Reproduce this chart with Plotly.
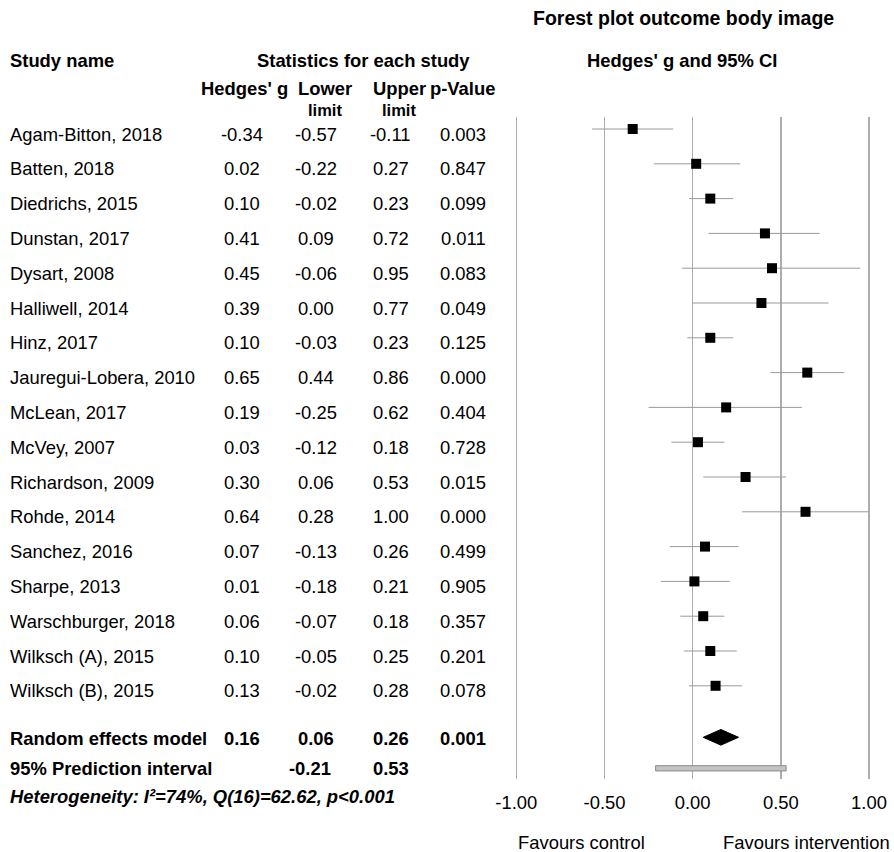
import plotly.graph_objects as go

# ---------------- data ----------------
studies = ["Agam-Bitton, 2018", "Batten, 2018", "Diedrichs, 2015", "Dunstan, 2017",
           "Dysart, 2008", "Halliwell, 2014", "Hinz, 2017", "Jauregui-Lobera, 2010",
           "McLean, 2017", "McVey, 2007", "Richardson, 2009", "Rohde, 2014",
           "Sanchez, 2016", "Sharpe, 2013", "Warschburger, 2018", "Wilksch (A), 2015",
           "Wilksch (B), 2015"]
hedges_g = [-0.34, 0.02, 0.10, 0.41, 0.45, 0.39, 0.10, 0.65, 0.19, 0.03, 0.30, 0.64,
            0.07, 0.01, 0.06, 0.10, 0.13]
lower_limit = [-0.57, -0.22, -0.02, 0.09, -0.06, 0.00, -0.03, 0.44, -0.25, -0.12, 0.06,
               0.28, -0.13, -0.18, -0.07, -0.05, -0.02]
upper_limit = [-0.11, 0.27, 0.23, 0.72, 0.95, 0.77, 0.23, 0.86, 0.62, 0.18, 0.53, 1.00,
               0.26, 0.21, 0.18, 0.25, 0.28]
p_values = ["0.003", "0.847", "0.099", "0.011", "0.083", "0.049", "0.125", "0.000",
            "0.404", "0.728", "0.015", "0.000", "0.499", "0.905", "0.357", "0.201", "0.078"]

re_label = "Random effects model"
re_g, re_lower, re_upper, re_p = 0.16, 0.06, 0.26, "0.001"
pi_label = "95% Prediction interval"
pi_lower, pi_upper = -0.21, 0.53
heterogeneity = "Heterogeneity: I²=74%, Q(16)=62.62, p<0.001"

x_ticks = [-1.0, -0.5, 0.0, 0.5, 1.0]
x_tick_labels = ["-1.00", "-0.50", "0.00", "0.50", "1.00"]

# ---------------- layout helpers ----------------
W, H = 894, 852
FONT = "Liberation Sans, Arial, sans-serif"
FS = 18.4
ROW0_PX, ROW_PX = 129.0, 34.8        # page pixel of row 0 and row spacing
TOP_PX, BOT_PX = 117.0, 779.3        # vertical extent of plot area (gridlines)
X_M1_PX, X_P1_PX = 516.3, 869.0      # page pixel of -1 and +1
PAD = 1.5                            # px padding so edge gridlines are drawn
UNIT = (X_P1_PX - X_M1_PX) / 2.0


def row_of(px):
    return (px - ROW0_PX) / ROW_PX


def py(px):
    return 1 - px / H


def pxx(px):
    return px / W


RE_ROW = row_of(737.3)
PI_ROW = row_of(768.3)

rows = list(range(len(studies)))

fig = go.Figure()

# study CIs + markers
fig.add_trace(go.Scatter(
    x=hedges_g, y=rows, mode="markers",
    marker=dict(symbol="square", size=10, color="black"),
    error_x=dict(type="data", symmetric=False,
                 array=[u - g for u, g in zip(upper_limit, hedges_g)],
                 arrayminus=[g - l for g, l in zip(hedges_g, lower_limit)],
                 color="#9a9a9a", thickness=1, width=0),
    hoverinfo="skip", showlegend=False, cliponaxis=False))

# random effects diamond
dh = 0.225
fig.add_trace(go.Scatter(
    x=[re_lower, re_g, re_upper, re_g, re_lower],
    y=[RE_ROW, RE_ROW - dh, RE_ROW, RE_ROW + dh, RE_ROW],
    mode="lines", fill="toself", fillcolor="black",
    line=dict(color="black", width=1), hoverinfo="skip", showlegend=False))

# prediction interval bar
fig.add_shape(type="rect", xref="x", yref="y",
              x0=pi_lower, x1=pi_upper, y0=PI_ROW - 0.075, y1=PI_ROW + 0.075,
              fillcolor="#c4c4c4", line=dict(color="#8a8a8a", width=1))

ann = []


def txt(text, x_px, y, yref="y", size=FS, anchor="center", yshift=0, bold=False, italic=False):
    if bold:
        text = "<b>" + text + "</b>"
    if italic:
        text = "<i>" + text + "</i>"
    ann.append(dict(text=text, xref="paper", x=pxx(x_px), yref=yref, y=y,
                    xanchor=anchor, yanchor="middle", showarrow=False,
                    yshift=yshift, font=dict(family=FONT, size=size, color="black")))


COL_G, COL_L, COL_U, COL_P = 241.5, 316.0, 390.5, 463.0
LEFT = 8
SHIFT = -5

for i, name in enumerate(studies):
    txt(name, LEFT, i, anchor="left", yshift=SHIFT)
    txt(f"{hedges_g[i]:.2f}", COL_G, i, yshift=SHIFT)
    txt(f"{lower_limit[i]:.2f}", COL_L, i, yshift=SHIFT)
    txt(f"{upper_limit[i]:.2f}", COL_U, i, yshift=SHIFT)
    txt(p_values[i], COL_P, i, yshift=SHIFT)

# summary rows
txt(re_label, LEFT, RE_ROW, anchor="left", bold=True, yshift=-1.5)
txt(f"{re_g:.2f}", COL_G, RE_ROW, bold=True, yshift=-1.5)
txt(f"{re_lower:.2f}", COL_L, RE_ROW, bold=True, yshift=-1.5)
txt(f"{re_upper:.2f}", COL_U, RE_ROW, bold=True, yshift=-1.5)
txt(re_p, COL_P, RE_ROW, bold=True, yshift=-1.5)
txt(pi_label, LEFT, PI_ROW, anchor="left", bold=True)
txt(f"{pi_lower:.2f}", 309.5, PI_ROW, bold=True)
txt(f"{pi_upper:.2f}", COL_U, PI_ROW, bold=True)
txt(heterogeneity, LEFT, py(796.7), yref="paper", anchor="left", bold=True, italic=True)

# headers
txt("Study name", LEFT, py(60), yref="paper", anchor="left", bold=True)
txt("Statistics for each study", 363.5, py(60), yref="paper", bold=True)
txt("Hedges' g", 244, py(88.5), yref="paper", bold=True)
txt("Lower", 324.5, py(88.5), yref="paper", bold=True)
txt("Upper", 399, py(88.5), yref="paper", bold=True)
txt("p-Value", 462, py(88.5), yref="paper", bold=True)
txt("limit", 324.5, py(110), yref="paper", bold=True, size=16.5)
txt("limit", 399, py(110), yref="paper", bold=True, size=16.5)
txt("Forest plot outcome body image", 683.5, py(18.5), yref="paper", bold=True, size=19.5)
txt("Hedges' g and 95% CI", 682, py(61), yref="paper", bold=True)
txt("Favours control", 581, py(842), yref="paper")
txt("Favours intervention", 806.5, py(842), yref="paper")

fig.update_layout(
    width=W, height=H, margin=dict(l=0, r=0, t=0, b=0, autoexpand=False),
    paper_bgcolor="white", plot_bgcolor="white",
    annotations=ann, showlegend=False, hovermode=False,
    font=dict(family=FONT, size=FS, color="black"),
    xaxis=dict(domain=[pxx(X_M1_PX - PAD), pxx(X_P1_PX + PAD)],
               range=[-1 - PAD / UNIT, 1 + PAD / UNIT],
               tickvals=x_ticks, ticktext=x_tick_labels,
               showgrid=True, gridcolor="#adadad", gridwidth=1.5,
               zeroline=False, showline=False, automargin=False,
               ticks="outside", ticklen=7, tickcolor="rgba(0,0,0,0)",
               tickfont=dict(family=FONT, size=FS, color="black"), fixedrange=True),
    yaxis=dict(domain=[py(BOT_PX), py(TOP_PX)], range=[row_of(BOT_PX), row_of(TOP_PX)],
               showgrid=False, zeroline=False, showline=False, showticklabels=False,
               automargin=False, fixedrange=True),
)

fig.write_html("out.html",
               config={"displayModeBar": False, "staticPlot": True},
               post_script="document.body.style.margin='0px';"
                           "document.body.style.overflow='hidden';")
